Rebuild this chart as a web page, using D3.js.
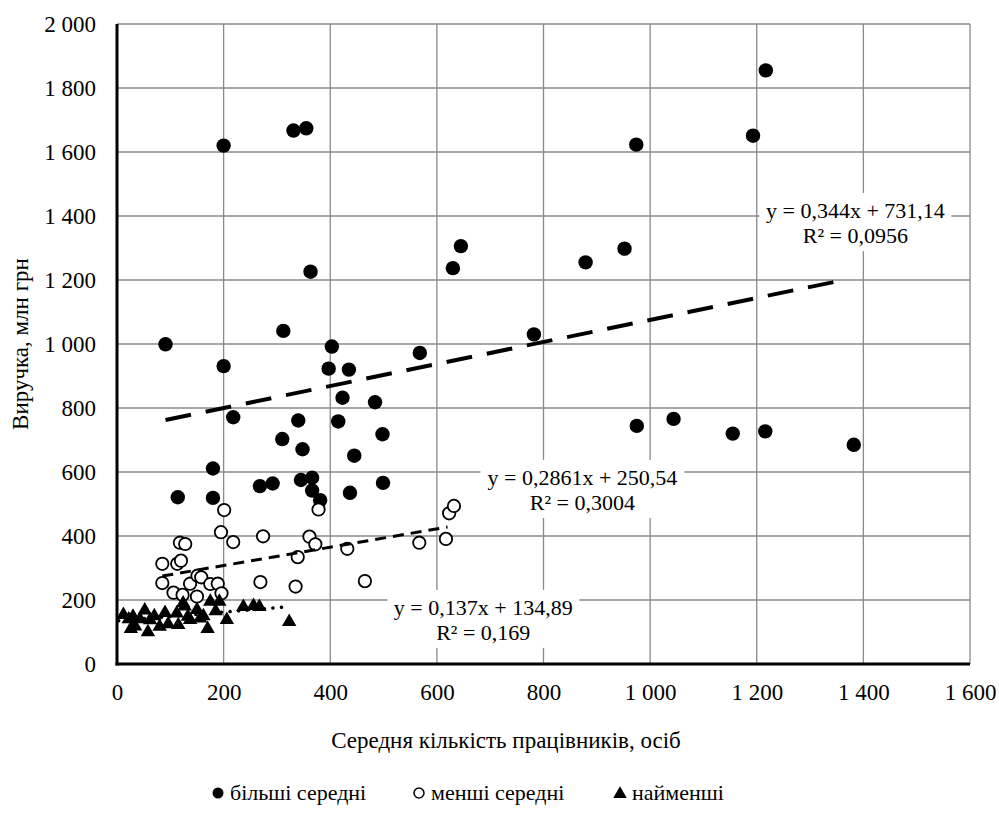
<!DOCTYPE html>
<html>
<head>
<meta charset="utf-8">
<script src="https://cdn.jsdelivr.net/npm/d3@7"></script>
<style>
  body { margin: 0; background: #fff; }
  svg text { font-family: "Liberation Serif", "Times New Roman", serif; fill: #000; }
</style>
</head>
<body>
<div id="chart"></div>
<script>
// більші середні (x = працівники, y = виручка)
const bigPoints = [
  [91, 999], [114, 521], [180, 611], [180, 519], [200, 1620], [200, 931],
  [218, 771], [268, 556], [292, 564], [310, 703], [312, 1041], [331, 1667],
  [340, 761], [345, 575], [348, 671], [355, 1674], [363, 1226], [366, 582],
  [366, 542], [381, 512], [397, 923], [403, 992], [415, 758], [423, 832],
  [435, 920], [437, 535], [445, 651], [484, 818], [498, 718], [499, 566],
  [568, 972], [630, 1237], [645, 1306], [782, 1030], [879, 1255], [952, 1298],
  [974, 1623], [975, 744], [1044, 766], [1155, 720], [1193, 1651], [1216, 727],
  [1217, 1855], [1382, 685]
];

// менші середні
const midPoints = [
  [85, 313], [85, 253], [106, 223], [113, 313], [118, 379], [120, 323],
  [123, 216], [128, 375], [137, 251], [150, 211], [151, 276], [158, 271],
  [175, 250], [189, 251], [195, 412], [196, 221], [201, 481], [218, 381],
  [269, 256], [274, 399], [335, 242], [339, 334], [361, 398], [372, 374],
  [378, 483], [432, 360], [465, 259], [567, 379], [617, 391], [623, 471],
  [632, 494]
];

// найменші
const smallPoints = [
  [12, 154], [22, 140], [26, 110], [30, 148], [34, 118], [43, 140],
  [52, 168], [58, 100], [62, 137], [70, 150], [80, 117], [90, 160],
  [96, 125], [112, 158], [115, 122], [124, 190], [127, 180], [133, 148],
  [137, 138], [150, 169], [156, 143], [162, 150], [170, 110], [175, 195],
  [185, 165], [192, 195], [206, 138], [237, 179], [256, 182], [267, 179],
  [323, 132]
];

const seriesNames = ["більші середні", "менші середні", "найменші"];
const trendSlopes = [0.344, 0.2861, 0.137];
const trendIntercepts = [731.14, 250.54, 134.89];
const trendRanges = [[91, 1360], [85, 620], [3, 312]];
const trendEquations = ["y = 0,344x + 731,14", "y = 0,2861x + 250,54", "y = 0,137x + 134,89"];
const trendR2 = ["R² = 0,0956", "R² = 0,3004", "R² = 0,169"];
const labelAnchors = [[1385, 1381], [873, 547], [687, 141]];

const xTicks = [0, 200, 400, 600, 800, 1000, 1200, 1400, 1600];
const yTicks = [0, 200, 400, 600, 800, 1000, 1200, 1400, 1600, 1800, 2000];

const width = 999;
const height = 816;
const fontSize = 23;
const serif = "'Liberation Serif', 'Times New Roman', serif";

const locale = d3.formatLocale({ decimal: ",", thousands: " ", grouping: [3], currency: ["", ""] });
const fmt = locale.format(",d");

const x = d3.scaleLinear().domain([0, 1600]).range([117, 970]);
const y = d3.scaleLinear().domain([0, 2000]).range([664, 24]);

const svg = d3.select("#chart").append("svg")
  .attr("width", width)
  .attr("height", height)
  .attr("font-family", serif);

// gridlines
svg.append("g")
  .selectAll("line")
  .data(yTicks.slice(1))
  .enter().append("line")
  .attr("x1", x(0)).attr("x2", x(1600))
  .attr("y1", d => y(d)).attr("y2", d => y(d))
  .attr("stroke", "#8a8a8a")
  .attr("stroke-width", 1.3);

svg.append("g")
  .selectAll("line")
  .data(xTicks.slice(1))
  .enter().append("line")
  .attr("x1", d => x(d)).attr("x2", d => x(d))
  .attr("y1", y(0)).attr("y2", y(2000))
  .attr("stroke", "#8a8a8a")
  .attr("stroke-width", 1.3);

// axes (no tick marks, just the lines and labels)
const xAxis = d3.axisBottom(x).tickValues(xTicks).tickFormat(fmt).tickSize(0).tickPadding(20);
const yAxis = d3.axisLeft(y).tickValues(yTicks).tickFormat(fmt).tickSize(0).tickPadding(21);

const gx = svg.append("g").attr("transform", `translate(0,${y(0)})`).call(xAxis);
const gy = svg.append("g").attr("transform", `translate(${x(0)},0)`).call(yAxis);
[gx, gy].forEach(g => {
  g.attr("font-family", serif).attr("font-size", fontSize);
  g.select(".domain").remove();
  g.selectAll("text")
    .attr("font-family", serif)
    .attr("fill", "#000");
});

// trendline label boxes
const labels = svg.append("g")
  .selectAll("g")
  .data(labelAnchors)
  .enter().append("g")
  .attr("transform", d => `translate(${x(d[0])},${y(d[1])})`);

labels.append("rect")
  .attr("x", (d, i) => i === 1 ? -102 : -96)
  .attr("y", -29)
  .attr("width", (d, i) => i === 1 ? 204 : 192)
  .attr("height", 58)
  .attr("fill", "#fff");

labels.append("text")
  .attr("text-anchor", "middle")
  .attr("y", -4)
  .attr("font-family", serif)
  .attr("font-size", 22)
  .text((d, i) => trendEquations[i]);

labels.append("text")
  .attr("text-anchor", "middle")
  .attr("y", 21)
  .attr("font-family", serif)
  .attr("font-size", 22)
  .text((d, i) => trendR2[i]);

// axis lines
svg.append("line")
  .attr("x1", x(0)).attr("x2", x(0))
  .attr("y1", y(0) + 1.5).attr("y2", y(2000))
  .attr("stroke", "#000").attr("stroke-width", 3);
svg.append("line")
  .attr("x1", x(0) - 1.5).attr("x2", x(1600))
  .attr("y1", y(0)).attr("y2", y(0))
  .attr("stroke", "#000").attr("stroke-width", 3);

// markers
svg.append("g")
  .selectAll("circle")
  .data(bigPoints)
  .enter().append("circle")
  .attr("cx", d => x(d[0]))
  .attr("cy", d => y(d[1]))
  .attr("r", 7.2)
  .attr("fill", "#000");

svg.append("g")
  .selectAll("circle")
  .data(midPoints)
  .enter().append("circle")
  .attr("cx", d => x(d[0]))
  .attr("cy", d => y(d[1]))
  .attr("r", 6.2)
  .attr("fill", "#fff")
  .attr("stroke", "#000")
  .attr("stroke-width", 1.8);

const tri = d3.symbol().type(d3.symbolTriangle).size(90);
svg.append("g")
  .selectAll("path")
  .data(smallPoints)
  .enter().append("path")
  .attr("d", tri)
  .attr("transform", d => `translate(${x(d[0])},${y(d[1])})`)
  .attr("fill", "#000");

// trendlines
const dashes = ["26,15", "11,7", "0.1,8.5"];
const widths = [4, 3, 3.5];
svg.append("g")
  .selectAll("line")
  .data(trendRanges)
  .enter().append("line")
  .attr("x1", d => x(d[0]))
  .attr("x2", d => x(d[1]))
  .attr("y1", (d, i) => y(trendSlopes[i] * d[0] + trendIntercepts[i]))
  .attr("y2", (d, i) => y(trendSlopes[i] * d[1] + trendIntercepts[i]))
  .attr("stroke", "#000")
  .attr("stroke-width", (d, i) => widths[i])
  .attr("stroke-dasharray", (d, i) => dashes[i])
  .attr("stroke-linecap", (d, i) => i === 2 ? "round" : "butt");

// axis titles
svg.append("text")
  .attr("transform", `translate(28,${(y(0) + y(2000)) / 2}) rotate(-90)`)
  .attr("text-anchor", "middle")
  .attr("font-family", serif)
  .attr("font-size", fontSize)
  .text("Виручка, млн грн");

svg.append("text")
  .attr("x", 506)
  .attr("y", 748)
  .attr("text-anchor", "middle")
  .attr("font-family", serif)
  .attr("font-size", fontSize)
  .text("Середня кількість працівників, осіб");

// legend
const legendX = [218, 419, 620];
const legend = svg.append("g")
  .selectAll("g")
  .data(seriesNames)
  .enter().append("g")
  .attr("transform", (d, i) => `translate(${legendX[i]},793)`);

legend.each(function (d, i) {
  const g = d3.select(this);
  if (i === 0) {
    g.append("circle").attr("r", 5.5).attr("fill", "#000");
  } else if (i === 1) {
    g.append("circle").attr("r", 5).attr("fill", "#fff").attr("stroke", "#000").attr("stroke-width", 1.5);
  } else {
    g.append("path").attr("d", d3.symbol().type(d3.symbolTriangle).size(80)).attr("transform", "translate(0,1)").attr("fill", "#000");
  }
});

legend.append("text")
  .attr("x", 12)
  .attr("y", 7)
  .attr("font-family", serif)
  .attr("font-size", 22)
  .text(d => d);
</script>
</body>
</html>
